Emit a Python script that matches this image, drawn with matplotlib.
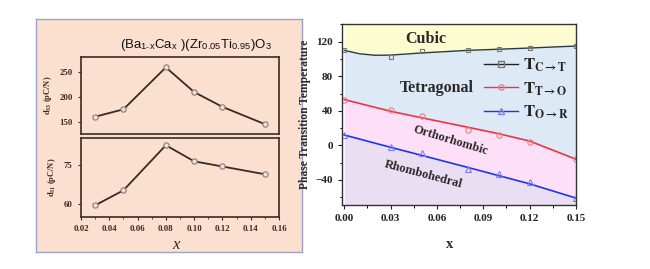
import matplotlib
matplotlib.use("Agg")
import matplotlib.pyplot as plt

plt.rcParams["mathtext.fontset"] = "stix"

# ---- left panel data ----
x_left = [0.03, 0.05, 0.08, 0.10, 0.12, 0.15]
d33 = [160, 175, 260, 210, 180, 145]
d31 = [59.5, 65.3, 82.7, 76.5, 74.5, 71.5]
left_xticks = [0.02, 0.04, 0.06, 0.08, 0.10, 0.12, 0.14, 0.16]

# ---- right panel data ----
x_right = [0.00, 0.03, 0.05, 0.08, 0.10, 0.12, 0.15]
T_CT = [110, 102.5, 109, 110.5, 111, 112.5, 115]
T_TO = [53, 41, 34, 18, 12, 3.5, -16]
T_OR = [12, -1.5, -9, -27, -33, -42, -61]
# smooth guide lines as drawn in the picture
fit_x = [0.00, 0.01, 0.02, 0.03, 0.05, 0.08, 0.10, 0.12, 0.15]
fit_CT = [110, 106, 104.3, 104.5, 107, 110, 111.3, 112.7, 115]
fit_TO = [53, 48.5, 44, 39.5, 32, 21, 13.5, 5, -16]
fit_OR = [12, 7.3, 2.5, -2.2, -11.5, -25.5, -35, -44.5, -61]
right_xticks = [0.00, 0.03, 0.06, 0.09, 0.12, 0.15]
right_yticks = [-40, 0, 40, 80, 120]

W, H = 650, 269
fig = plt.figure(figsize=(6.5, 2.69), dpi=100)
fig.patch.set_facecolor("white")

serif = ["Liberation Serif", "DejaVu Serif"]
peach = "#fbe0d0"
brown = "#3b2a22"

def box(x0, y0, x1, y1):
    return [x0 / W, 1 - y1 / H, (x1 - x0) / W, (y1 - y0) / H]

# peach background panel
axbg = fig.add_axes(box(36, 19, 302, 252))
axbg.set_zorder(-5)
axbg.set_facecolor(peach)
axbg.set_xticks([])
axbg.set_yticks([])
for s in axbg.spines.values():
    s.set_color("#9ea3c9")
    s.set_linewidth(1.0)

ax1 = fig.add_axes(box(81, 57, 279, 134))
ax2 = fig.add_axes(box(81, 138, 279, 217))
for ax in (ax1, ax2):
    ax.set_facecolor(peach)
    for s in ax.spines.values():
        s.set_color(brown)
        s.set_linewidth(1.2)
    ax.tick_params(direction="out", length=2.5, width=0.8, colors=brown,
                   labelsize=6)
    ax.set_xlim(0.02, 0.16)
    ax.set_xticks(left_xticks)
    ax.set_xticks([0.03, 0.05, 0.07, 0.09, 0.11, 0.13, 0.15], minor=True)
    ax.tick_params(which="minor", length=1.5, colors=brown)

mk = dict(marker="o", ms=3.8, mfc="#efe0d8", mec="#8a7a72", mew=0.8)
ax1.plot(x_left, d33, color=brown, lw=1.3, **mk)
ax1.set_ylim(125, 281)
ax1.set_yticks([150, 200, 250])
ax1.set_xticklabels([])
ax1.tick_params(axis="x", which="both", length=0)
ax1.set_ylabel("d$_{\\mathregular{33}}$ (pC/N)", fontsize=6, fontfamily=serif,
               fontweight="bold", color=brown, labelpad=4)

ax2.plot(x_left, d31, color=brown, lw=1.3, **mk)
ax2.set_ylim(55, 85.5)
ax2.set_yticks([60, 75])
ax2.set_xticklabels([f"{v:.2f}" for v in left_xticks])
ax2.set_ylabel("d$_{\\mathregular{31}}$ (pC/N)", fontsize=6, fontfamily=serif,
               fontweight="bold", color=brown, labelpad=4)
for ax in (ax1, ax2):
    for lab in ax.get_xticklabels() + ax.get_yticklabels():
        lab.set_fontfamily(serif)
        lab.set_fontweight("bold")
        lab.set_fontsize(6.3)
        lab.set_color(brown)

fig.text(176 / W, 1 - 245 / H, "x", fontsize=12, fontstyle="italic",
         fontfamily=serif, ha="center", va="center", color="#2a2a2a")
fig.text(196 / W, 1 - 45 / H,
         "(Ba$_{\\mathregular{1\\text{-}x}}$Ca$_{\\mathregular{x}}$ )"
         "(Zr$_{\\mathregular{0.05}}$Ti$_{\\mathregular{0.95}}$)O$_{\\mathregular{3}}$",
         fontsize=9.5, fontfamily=["Liberation Sans", "DejaVu Sans"],
         ha="center", va="center", color="#111111")

# ---- right panel ----
ax = fig.add_axes(box(342, 24, 576, 205))
ylo, yhi = -69, 140.5
ax.set_xlim(-0.0015, 0.15)
ax.set_ylim(ylo, yhi)
ax.fill_between(fit_x, fit_CT, yhi, color="#fdfbd0", lw=0)
ax.fill_between(fit_x, fit_TO, fit_CT, color="#dde9f5", lw=0)
ax.fill_between(fit_x, fit_OR, fit_TO, color="#fde0f8", lw=0)
ax.fill_between(fit_x, ylo, fit_OR, color="#e9def2", lw=0)

ax.plot(fit_x, fit_CT, color="#2b3a40", lw=1.0)
ax.plot(fit_x, fit_TO, color="#ee3344", lw=1.2)
ax.plot(fit_x, fit_OR, color="#2233ee", lw=1.2)
ax.plot(x_right, T_CT, ls="none", marker="s", ms=3.5, mfc="none",
        mec="#777777", mew=0.8)
ax.plot(x_right, T_TO, ls="none", marker="o", ms=3.8, mfc="none",
        mec="#ee8080", mew=0.8)
ax.plot(x_right, T_OR, ls="none", marker="^", ms=3.8, mfc="none",
        mec="#8080ee", mew=0.8)

lh = [
    ax.plot([], [], color="#222222", lw=1.0, marker="s", ms=3.8, mfc="none",
            mec="#777777")[0],
    ax.plot([], [], color="#ee3344", lw=1.0, marker="o", ms=3.8, mfc="none",
            mec="#ee8080")[0],
    ax.plot([], [], color="#2233ee", lw=1.0, marker="^", ms=3.8, mfc="none",
            mec="#8080ee")[0],
]
labels = [r"$\mathbf{T}_{\mathbf{C\rightarrow T}}$",
          r"$\mathbf{T}_{\mathbf{T\rightarrow O}}$",
          r"$\mathbf{T}_{\mathbf{O\rightarrow R}}$"]
leg = ax.legend(lh, labels, loc="upper right", bbox_to_anchor=(1.01, 0.88),
                frameon=False, fontsize=12, handlelength=2.0,
                handletextpad=0.3, labelspacing=0.3, borderaxespad=0.2)
for t in leg.get_texts():
    t.set_color("#222222")

tk = dict(fontfamily=serif, fontweight="bold", color="#2a2a2a")
ax.text(0.053, 123, "Cubic", fontsize=11.5, ha="center", va="center", **tk)
ax.text(0.060, 67, "Tetragonal", fontsize=11.5, ha="center", va="center", **tk)
ax.text(0.069, 6, "Orthorhombic", fontsize=9, ha="center", va="center",
        rotation=-17, **tk)
ax.text(0.051, -34, "Rhombohedral", fontsize=9, ha="center", va="center",
        rotation=-15, **tk)

ax.set_xticks(right_xticks)
ax.set_xticks([0.015, 0.045, 0.075, 0.105, 0.135], minor=True)
ax.set_yticks(right_yticks)
ax.set_yticks([-60, -20, 20, 60, 100, 140], minor=True)
ax.set_xticklabels([f"{v:.2f}" for v in right_xticks])
ax.tick_params(which="major", direction="out", length=3, width=0.8,
               labelsize=8, colors="#222222")
ax.tick_params(which="minor", direction="out", length=1.8, width=0.7)
for lab in ax.get_xticklabels() + ax.get_yticklabels():
    lab.set_fontfamily(serif)
    lab.set_fontweight("bold")
for s in ax.spines.values():
    s.set_color("#333333")
    s.set_linewidth(1.0)
ax.set_ylabel("Phase Transition Temperature", fontsize=8.3, labelpad=3, **tk)
fig.text(450 / W, 1 - 245 / H, "x", fontsize=10.5, ha="center", va="center",
         **tk)

fig.savefig("out.png", dpi=100)
